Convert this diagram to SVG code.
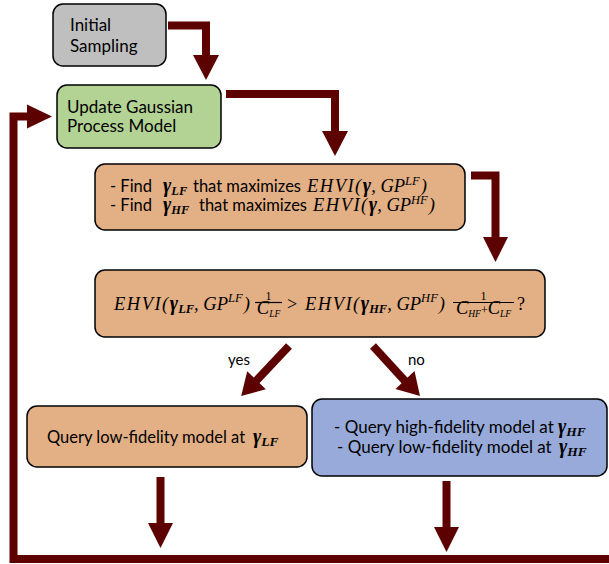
<svg xmlns="http://www.w3.org/2000/svg" width="609" height="564" viewBox="0 0 609 564">
<style>
.box{stroke:#000;stroke-width:1.5}
.gray{fill:#BFBFBF}.green{fill:#B3D395}.orange{fill:#E3AF84}.blue{fill:#97AAD9}
.sans{font-family:Lato,"Open Sans","Liberation Sans",sans-serif;fill:#000}
.m{font-family:"Liberation Serif","DejaVu Serif",serif;font-style:italic;font-size:18.5px}
.u{font-family:"Liberation Serif","DejaVu Serif",serif;font-style:normal}
.b{font-weight:bold}
.g{font-weight:bold;font-size:20px}
.e{letter-spacing:1.5px}
.shaft{fill:none;stroke:#5C0000;stroke-width:8;stroke-linejoin:miter}
.head{fill:#5C0000}
.bar{stroke:#000;stroke-width:1.2}
</style>
<g id="connectors">
<polyline class="shaft" points="168,25.5 206,25.5 206,56"/>
<polygon class="head" points="193,55 219,55 206,80"/>
<polyline class="shaft" points="226,94 335,94 335,132"/>
<polygon class="head" points="322,131 348,131 335,156"/>
<polyline class="shaft" points="471,175.5 495.5,175.5 495.5,238"/>
<polygon class="head" points="483,237 508,237 495.5,262"/>
<polyline class="shaft" points="289,346 256,381"/>
<polygon class="head" points="247.2,371.2 265.8,389.2 241.2,396"/>
<polyline class="shaft" points="373,346 405,381"/>
<polygon class="head" points="414.5,371.1 395.5,388.9 420,396"/>
<polyline class="shaft" points="160.5,477 160.5,524"/>
<polygon class="head" points="148,523 173,523 160.5,548"/>
<polyline class="shaft" points="446.5,481 446.5,528"/>
<polygon class="head" points="434,527 459,527 446.5,552"/>
<polyline class="shaft" points="612,559 13.5,559 13.5,116.5 28,116.5"/>
<polygon class="head" points="27,104.5 27,128.5 52,116.5"/>
<text class="sans" x="228" y="365" font-size="15">yes</text>
<text class="sans" x="408" y="365" font-size="15">no</text>
</g>
<g id="initial">
<rect class="box gray" x="53" y="4" width="113" height="62" rx="10"/>
<text class="sans" font-size="17"><tspan x="70" y="31">Initial</tspan><tspan x="70" y="52">Sampling</tspan></text>
</g>
<g id="update">
<rect class="box green" x="57" y="85" width="164" height="63" rx="10"/>
<text class="sans" font-size="17"><tspan x="67" y="113">Update Gaussian</tspan><tspan x="67" y="132">Process Model</tspan></text>
</g>
<g id="find">
<rect class="box orange" x="95" y="164" width="370" height="66" rx="10"/>
<text class="sans" font-size="16.5" x="110" y="192">- Find</text>
<text class="m" x="163" y="192"><tspan class="g">γ</tspan><tspan class="b" font-size="12.5" dy="3">LF</tspan></text>
<text class="sans" font-size="16.5" x="193" y="192">that maximizes</text>
<text class="m" x="307" y="192"><tspan class="e">EHVI(</tspan><tspan class="g">γ</tspan><tspan>, GP</tspan><tspan font-size="12.5" dy="-7">LF</tspan><tspan dx="1" dy="7">)</tspan></text>
<text class="sans" font-size="16.5" x="110" y="211">- Find</text>
<text class="m" x="163" y="211"><tspan class="g">γ</tspan><tspan class="b" font-size="12.5" dy="3">HF</tspan></text>
<text class="sans" font-size="16.5" x="199" y="211">that maximizes</text>
<text class="m" x="313" y="211"><tspan class="e">EHVI(</tspan><tspan class="g">γ</tspan><tspan>, GP</tspan><tspan font-size="12.5" dy="-7">HF</tspan><tspan dx="1" dy="7">)</tspan></text>
</g>
<g id="compare">
<rect class="box orange" x="95" y="270" width="450" height="67" rx="10"/>
<text class="m" x="114" y="310"><tspan class="e">EHVI(</tspan><tspan class="g">γ</tspan><tspan class="b" font-size="12.5" dy="3">LF</tspan><tspan dy="-3">, GP</tspan><tspan font-size="12.5" dy="-8">LF</tspan><tspan dx="1" dy="8">)</tspan></text>
<text class="u" x="268.5" y="299.5" font-size="12" text-anchor="middle">1</text>
<line class="bar" x1="255" y1="302.5" x2="282" y2="302.5"/>
<text class="m" x="268.5" y="314" font-size="13" text-anchor="middle"><tspan>C</tspan><tspan font-size="9.5" dy="3">LF</tspan></text>
<text class="u" x="287" y="310" font-size="18">&gt;</text>
<text class="m" x="305" y="310"><tspan class="e">EHVI(</tspan><tspan class="g">γ</tspan><tspan class="b" font-size="12.5" dy="3">HF</tspan><tspan dy="-3">, GP</tspan><tspan font-size="12.5" dy="-8">HF</tspan><tspan dx="1" dy="8">)</tspan></text>
<text class="u" x="483.5" y="299.5" font-size="12" text-anchor="middle">1</text>
<line class="bar" x1="453" y1="302.5" x2="514" y2="302.5"/>
<text class="m" x="483.5" y="314" font-size="13" text-anchor="middle"><tspan>C</tspan><tspan font-size="9.5" dy="3">HF</tspan><tspan class="u" font-size="12" dy="-3">+</tspan><tspan>C</tspan><tspan font-size="9.5" dy="3">LF</tspan></text>
<text class="u" x="517" y="310" font-size="18">?</text>
</g>
<g id="query-lf">
<rect class="box orange" x="27" y="406" width="280" height="61" rx="10"/>
<text class="sans" font-size="16.5" x="47" y="443">Query low-fidelity model at</text>
<text class="m" x="253" y="443"><tspan class="g">γ</tspan><tspan class="b" font-size="13.5" dy="3">LF</tspan></text>
</g>
<g id="query-hf">
<rect class="box blue" x="312" y="399" width="295" height="77" rx="10"/>
<text class="sans" font-size="17" x="334" y="433">- Query high-fidelity model at</text>
<text class="m" x="558" y="433"><tspan class="g">γ</tspan><tspan class="b" font-size="13.5" dy="3">HF</tspan></text>
<text class="sans" font-size="17" x="337" y="453">- Query low-fidelity model at</text>
<text class="m" x="559" y="453"><tspan class="g">γ</tspan><tspan class="b" font-size="13.5" dy="3">HF</tspan></text>
</g>
</svg>
